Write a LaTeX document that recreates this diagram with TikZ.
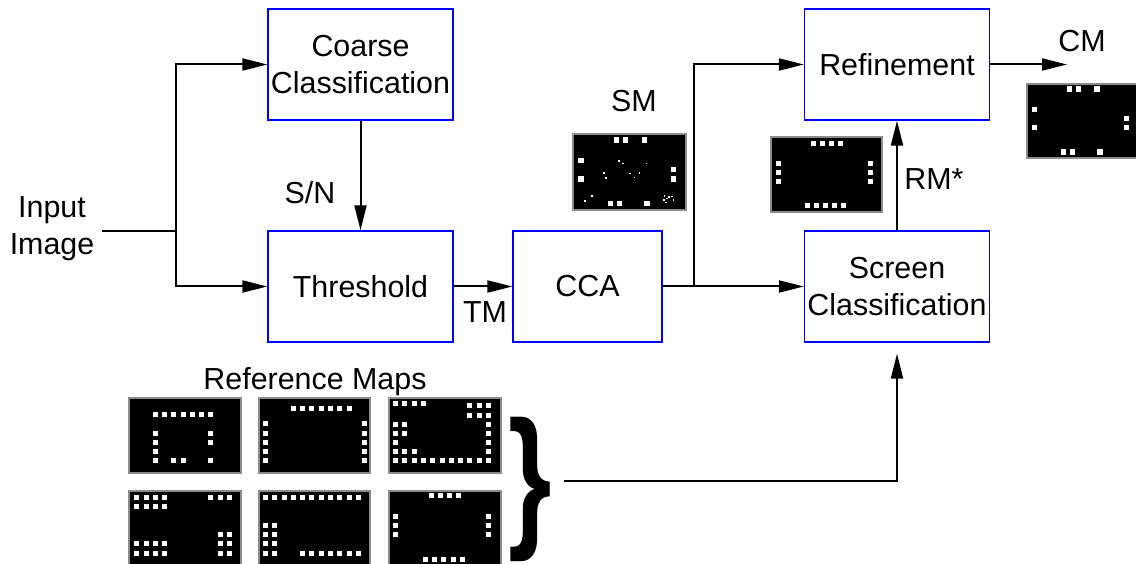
\documentclass[tikz,border=0pt]{standalone}
\usepackage{fontspec}
\setmainfont{Liberation Sans}
\usetikzlibrary{arrows.meta}
\begin{document}
\begin{tikzpicture}[x=1pt,y=-1pt,
  every node/.style={font=\fontsize{30.4}{36.5}\selectfont, inner sep=0pt},
  blk/.style={draw=blue, line width=1.3pt, minimum width=185pt, minimum height=111pt, align=center},
  lbl/.style={anchor=base},
  arr/.style={line width=2pt, -{Triangle[length=25pt,width=12pt]}},
  ln/.style={line width=2pt},
  mapframe/.style={fill=black, draw=black!45, line width=2pt},
  sq/.style={fill=white}]
\useasboundingbox (0,0) rectangle (1136,564);

% blocks
\node[blk] (coarse) at (360.5,64.5) {Coarse\\Classification};
\node[blk] (thresh) at (360.5,286.5) {Threshold};
\node[blk, minimum width=149pt] (cca) at (587.5,286.5) {CCA};
\node[blk] (refine) at (897,64.5) {Refinement};
\node[blk] (screen) at (897,286.5) {Screen\\Classification};

% labels
\node[align=center] (input) at (52,228.5) {Input\\Image};
\node[lbl] (sn) at (310,204) {S/N};
\node[lbl] (tm) at (485,323) {TM};
\node[lbl] (sml) at (634,112) {SM};
\node[lbl] (rml) at (934,190) {RM*};
\node[lbl] (cml) at (1082,52) {CM};
\node[lbl] (reflbl) at (315,389) {Reference Maps};

% coordinates
\coordinate (inend) at (102,231);
\coordinate (split) at (176,231);
\coordinate (br) at (694,286.5);
\coordinate (cmend) at (1067,64.5);
\coordinate (bl) at (564,481);

% connectors
\draw[ln] (inend) -- (split);
\draw[arr] (split) |- (coarse.west);
\draw[arr] (split) |- (thresh.west);
\draw[arr] (coarse.south) -- (thresh.north);
\draw[arr] (thresh.east) -- (cca.west);
\draw[arr] (cca.east) -- (screen.west);
\draw[arr] (br) |- (refine.west);
\draw[arr] (screen.north) -- (refine.south);
\draw[arr] (refine.east) -- (cmend);
\draw[arr, shorten >=11pt] (bl) -| (screen.south);

% brace
\node[xscale=0.72] (brace) at (530,489.5) {\fontsize{155}{155}\selectfont\bfseries\}};

% SM map
\begin{scope}[shift={(560,120)},scale=1/3]
\draw[mapframe] (40,42) rectangle (378,270);
\foreach \p/\q in {170/60,197/60,253/60,63/122,63/177,341/149,341/177,151/251,178/251,261/251}
  \fill[sq] (\p-8,\q-8) rectangle ++(16,16);
\foreach \p/\q in {176/123,188/131,259/131,131/159,137/175,210/161,223/173,238/159,96/229,75/243,313/228,320/236,327/232,336/230,311/240,340/240,318/248}
  \fill[sq] (\p-2.5,\q-2.5) rectangle ++(5,5);
\end{scope}

% RM* map
\begin{scope}[shift={(760,130)},scale=1/3]
\draw[mapframe] (33,20) rectangle (365,245);
\foreach \p/\q in {160/40,187/40,214/40,241/40,55/100,55/127,55/154,332/100,332/127,332/154,142/228,169/228,196/228,223/228,250/228}
  \fill[sq] (\p-7.5,\q-7.5) rectangle ++(15,15);
\end{scope}

% CM map
\begin{scope}[shift={(1020,70)},scale=1/3]
\draw[mapframe] (22,42) rectangle (358,265);
\foreach \p/\q in {148/57,175/57,231/57,43/118,43/173,320/146,320/173,130/246,157/246,240/246}
  \fill[sq] (\p-8,\q-8) rectangle ++(16,16);
\end{scope}

% reference maps
\begin{scope}[shift={(100,330)},scale=1/3]
\draw[mapframe] (88,205) rectangle (424,430);
\foreach \p/\q in {165/255,193/255,221/255,249/255,277/255,305/255,332/255,165/310,165/337,165/365,165/393,332/310,332/337,332/393,221/393,249/393}
  \fill[sq] (\p-7.5,\q-7.5) rectangle ++(15,15);
\draw[mapframe] (477,205) rectangle (811,430);
\foreach \p/\q in {580/236,608/236,636/236,664/236,692/236,720/236,748/236,497/282,497/310,497/337,497/365,497/393,795/282,795/310,795/337,795/365,795/393}
  \fill[sq] (\p-7.5,\q-7.5) rectangle ++(15,15);
\draw[mapframe] (867,205) rectangle (1203,430);
\foreach \p/\q in {887/222,915/222,943/222,971/222,1110/228,1138/228,1165/228,1110/256,1138/256,1165/256,1165/284,1165/310,1165/338,1165/365,887/284,915/284,887/310,915/310,887/338,887/365,915/365,943/365,887/393,915/393,943/393,971/393,999/393,1027/393,1055/393,1083/393,1110/393,1138/393,1165/393}
  \fill[sq] (\p-7.5,\q-7.5) rectangle ++(15,15);
\draw[mapframe] (88,482) rectangle (424,707);
\foreach \p/\q in {110/503,138/503,165/503,193/503,110/531,138/531,165/531,193/531,332/503,360/503,387/503,110/642,138/642,165/642,193/642,110/670,138/670,165/670,193/670,360/614,387/614,360/642,387/642,360/670,387/670}
  \fill[sq] (\p-7.5,\q-7.5) rectangle ++(15,15);
\draw[mapframe] (477,482) rectangle (811,707);
\foreach \p/\q in {497/503,525/503,553/503,580/503,608/503,636/503,664/503,692/503,720/503,748/503,775/503,497/587,525/587,497/614,525/614,497/642,525/642,497/670,525/670,608/670,636/670,664/670,692/670,720/670,748/670,775/670}
  \fill[sq] (\p-7.5,\q-7.5) rectangle ++(15,15);
\draw[mapframe] (867,482) rectangle (1203,707);
\foreach \p/\q in {995/498,1022/498,1050/498,1077/498,887/560,887/587,887/614,1165/560,1165/587,1165/614,977/690,1005/690,1032/690,1060/690,1087/690}
  \fill[sq] (\p-7.5,\q-7.5) rectangle ++(15,15);
\end{scope}
\end{tikzpicture}
\end{document}
